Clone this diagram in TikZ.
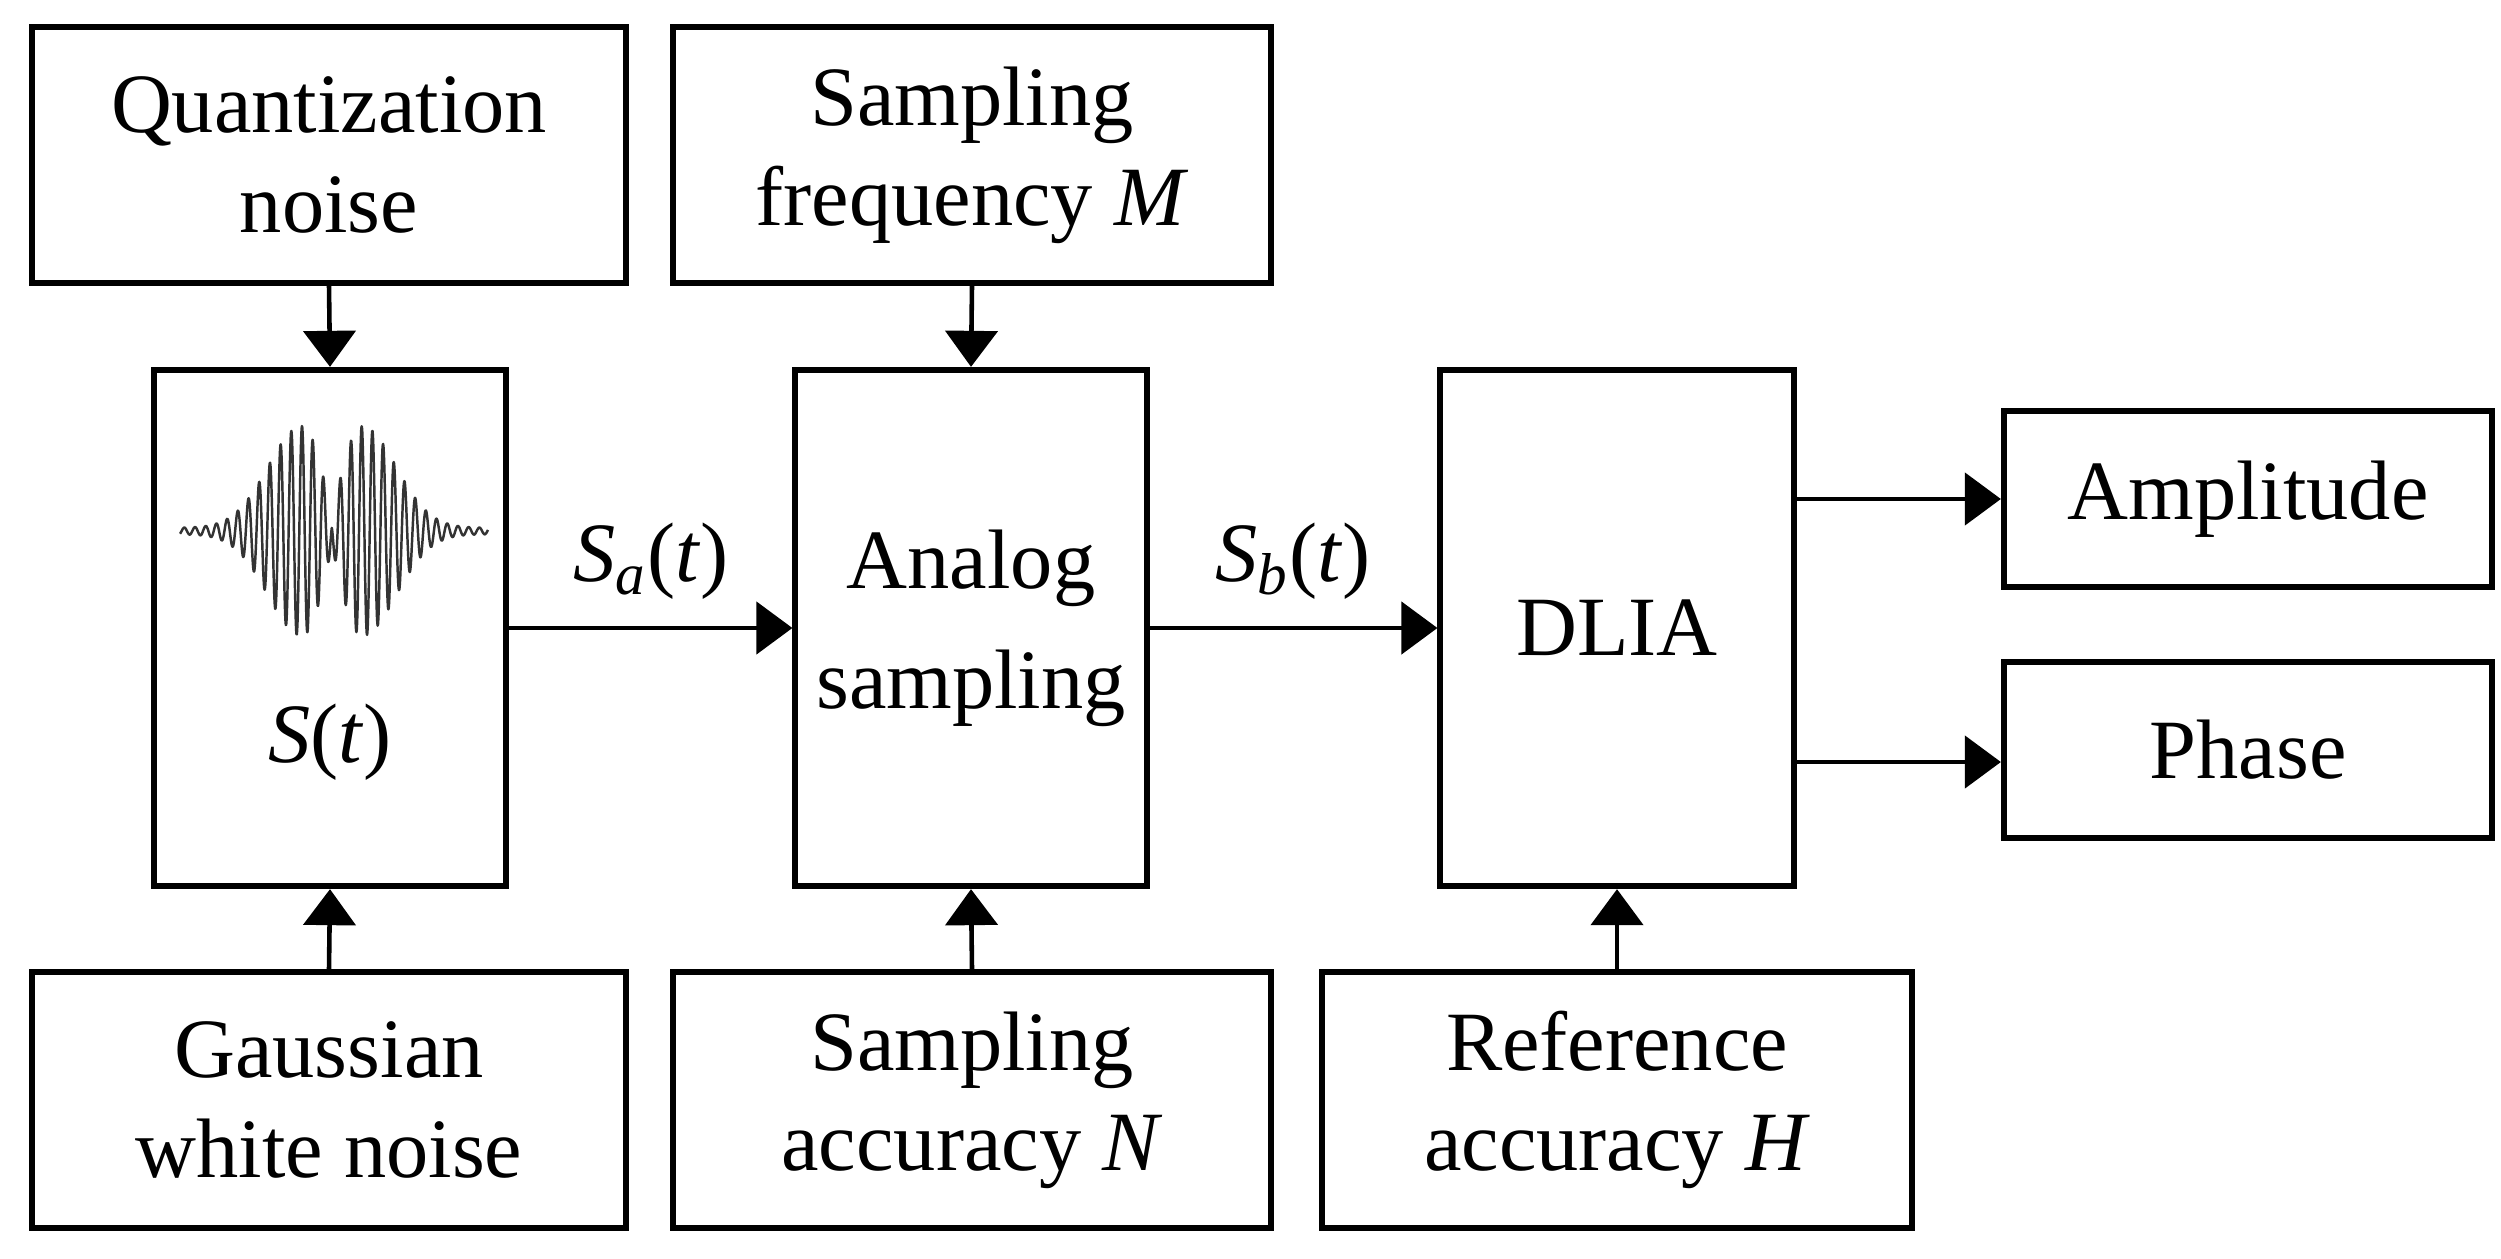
\documentclass[tikz,border=0pt]{standalone}
\usepackage{fontspec}
\setmainfont{Liberation Serif}
\usetikzlibrary{arrows.meta}
\begin{document}
\begin{tikzpicture}[x=0.01cm,y=-0.01cm,
  box/.style={draw, line width=1.7pt, inner sep=0pt, align=center, font=\fontsize{24}{28.5}\selectfont},
  arr/.style={line width=1.3pt, -{Triangle[length=0.36cm,width=0.52cm]}},
  lbl/.style={font=\fontsize{24}{28.5}\selectfont, inner sep=0pt},
  declare function={
    envw(\t)=(abs(\t)>30) ? (0.03+0.97*exp(-((abs(\t)-30)*(abs(\t)-30))/2312)) : (0.14+0.86*sin(3*abs(\t)));
    wph(\t)=(\t<0) ? (\t+30) : (\t-29.7);}]
\useasboundingbox (0,0) rectangle (2501,1258);
% top row
\node[box, minimum width=5.94cm, minimum height=2.55cm] (qn) at (329,155) {Quantization\\noise};
\node[box, minimum width=5.97cm, minimum height=2.55cm] (sf) at (972,155) {Sampling\\frequency \textit{M}};
% middle row
\node[box, minimum width=3.51cm, minimum height=5.16cm] (st) at (330,628) {};
\node[box, minimum width=3.51cm, minimum height=5.16cm] (as) at (971,628) {Analog\\[0.2cm]sampling};
\node[box, minimum width=3.53cm, minimum height=5.16cm] (dl) at (1617,628) {DLIA};
\node[box, minimum width=4.88cm, minimum height=1.76cm] (amp) at (2248,499) {Amplitude};
\node[box, minimum width=4.88cm, minimum height=1.75cm] (ph) at (2248,750) {Phase};
% bottom row
\node[box, minimum width=5.94cm, minimum height=2.55cm] (gw) at (329,1100) {Gaussian\\white noise};
\node[box, minimum width=5.97cm, minimum height=2.55cm] (sa) at (972,1100) {Sampling\\accuracy \textit{N}};
\node[box, minimum width=5.90cm, minimum height=2.55cm] (ra) at (1617,1100) {Reference\\accuracy \textit{H}};
% waveform inside S(t) box
\draw[black!80, line width=0.7pt, line join=round, domain=-152:156, samples=900, variable=\u]
  plot ({332+\u},{531-105*envw(\u)*cos(33.645*wph(\u))});
\node[lbl] (stl) at (330,742) {\textit{S}(\textit{t})};
% connectors
\draw[arr] (qn.south) -- (st.north);
\draw[arr] (sf.south) -- (as.north);
\draw[arr] (gw.north) -- (st.south);
\draw[arr] (sa.north) -- (as.south);
\draw[arr] (ra.north) -- (dl.south);
\draw[arr] (st.east) -- (as.west);
\draw[arr] (as.east) -- (dl.west);
\draw[arr] (dl.east |- amp.west) -- (amp.west);
\draw[arr] ([yshift=-0.12cm]dl.east |- ph.west) -- ([yshift=-0.12cm]ph.west);
% signal labels
\node[lbl] (sal) at (651,561) {\textit{S}\textsubscript{\textit{a}}(\textit{t})};
\node[lbl] (sbl) at (1293,561) {\textit{S}\textsubscript{\textit{b}}(\textit{t})};
\end{tikzpicture}
\end{document}
